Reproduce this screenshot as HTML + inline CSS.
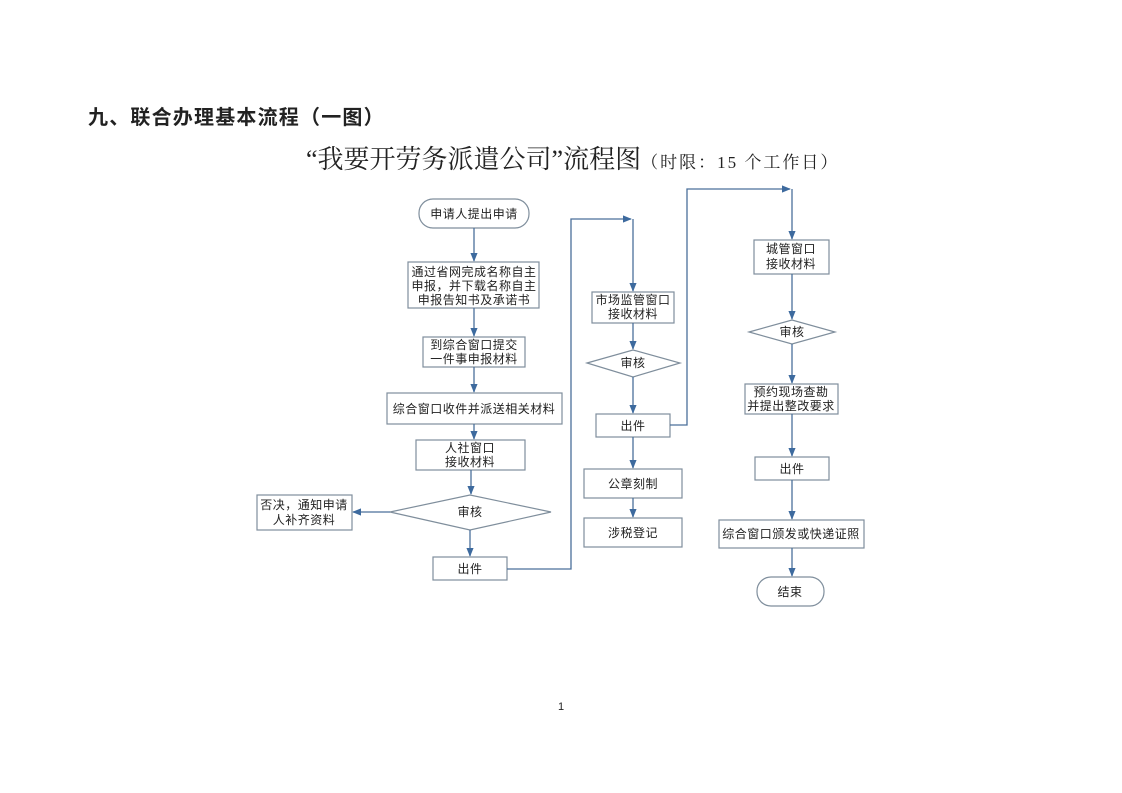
<!DOCTYPE html>
<html><head><meta charset="utf-8"><style>
html,body{margin:0;padding:0;background:#fff}
svg{display:block}
text{font-family:"Liberation Sans","Noto Sans CJK SC",sans-serif;fill:#222}
.b{fill:#fff;stroke:#7f8e9c;stroke-width:1.2}
.l{fill:none;stroke:#4a6f9a;stroke-width:1.3}
.t{font-size:12px;text-anchor:middle;letter-spacing:0.5px}
</style></head><body>
<svg width="1122" height="793" viewBox="0 0 1122 793" xmlns="http://www.w3.org/2000/svg">
<defs><marker id="a" viewBox="0 0 10 10" refX="9" refY="5" markerWidth="7" markerHeight="7" orient="auto"><path d="M0,1 L10,5 L0,9 z" fill="#3d6a9e"/></marker></defs>
<text x="88" y="124" style="font-size:20px;font-weight:bold;letter-spacing:1.2px;font-family:'Liberation Sans','Noto Sans CJK SC',sans-serif">九、联合办理基本流程（一图）</text>
<text x="306" y="168" style="font-size:26px;font-family:'Liberation Serif','Noto Serif CJK SC',serif">“我要开劳务派遣公司”流程图<tspan style="font-size:17px;letter-spacing:2px">（时限：15 个工作日）</tspan></text>
<text x="561" y="710" style="font-size:11px" text-anchor="middle">1</text>

<!-- column 1 -->
<rect class="b" x="419" y="199" width="110" height="29" rx="14"/>
<text class="t" x="474" y="218">申请人提出申请</text>
<line class="l" x1="474" y1="228" x2="474" y2="261" marker-end="url(#a)"/>
<rect class="b" x="408" y="262" width="131" height="46"/>
<text class="t" x="474" y="276">通过省网完成名称自主</text>
<text class="t" x="474" y="290">申报，并下载名称自主</text>
<text class="t" x="474" y="304">申报告知书及承诺书</text>
<line class="l" x1="474" y1="308" x2="474" y2="336" marker-end="url(#a)"/>
<rect class="b" x="423" y="337" width="102" height="30"/>
<text class="t" x="474" y="349">到综合窗口提交</text>
<text class="t" x="474" y="363">一件事申报材料</text>
<line class="l" x1="474" y1="367" x2="474" y2="392" marker-end="url(#a)"/>
<rect class="b" x="387" y="393" width="175" height="31"/>
<text class="t" x="474" y="413">综合窗口收件并派送相关材料</text>
<line class="l" x1="474" y1="424" x2="474" y2="439" marker-end="url(#a)"/>
<rect class="b" x="416" y="440" width="109" height="30"/>
<text class="t" x="470" y="452">人社窗口</text>
<text class="t" x="470" y="466">接收材料</text>
<line class="l" x1="471" y1="470" x2="471" y2="494" marker-end="url(#a)"/>
<polygon class="b" points="390,512 470,495 551,512 470,530"/>
<text class="t" x="470" y="516">审核</text>
<line class="l" x1="390" y1="512" x2="353" y2="512" marker-end="url(#a)"/>
<rect class="b" x="257" y="495" width="95" height="35"/>
<text class="t" x="304" y="509">否决，通知申请</text>
<text class="t" x="304" y="524">人补齐资料</text>
<line class="l" x1="470" y1="530" x2="470" y2="556" marker-end="url(#a)"/>
<rect class="b" x="433" y="557" width="74" height="23"/>
<text class="t" x="470" y="573">出件</text>
<polyline class="l" points="507,569 571,569 571,219 631,219" marker-end="url(#a)"/>

<!-- column 2 -->
<line class="l" x1="633" y1="219" x2="633" y2="291" marker-end="url(#a)"/>
<rect class="b" x="592" y="292" width="82" height="31"/>
<text class="t" x="633" y="304">市场监管窗口</text>
<text class="t" x="633" y="318">接收材料</text>
<line class="l" x1="633" y1="323" x2="633" y2="349" marker-end="url(#a)"/>
<polygon class="b" points="587,363 633,350 680,363 633,377"/>
<text class="t" x="633" y="367">审核</text>
<line class="l" x1="633" y1="377" x2="633" y2="413" marker-end="url(#a)"/>
<rect class="b" x="596" y="414" width="74" height="23"/>
<text class="t" x="633" y="430">出件</text>
<polyline class="l" points="670,425 687,425 687,189 790,189" marker-end="url(#a)"/>
<line class="l" x1="633" y1="437" x2="633" y2="468" marker-end="url(#a)"/>
<rect class="b" x="584" y="469" width="98" height="29"/>
<text class="t" x="633" y="488">公章刻制</text>
<line class="l" x1="633" y1="498" x2="633" y2="517" marker-end="url(#a)"/>
<rect class="b" x="584" y="518" width="98" height="29"/>
<text class="t" x="633" y="537">涉税登记</text>

<!-- column 3 -->
<line class="l" x1="792" y1="189" x2="792" y2="239" marker-end="url(#a)"/>
<rect class="b" x="754" y="240" width="75" height="34"/>
<text class="t" x="791" y="253">城管窗口</text>
<text class="t" x="791" y="268">接收材料</text>
<line class="l" x1="792" y1="274" x2="792" y2="319" marker-end="url(#a)"/>
<polygon class="b" points="749,332 792,320 835,332 792,344"/>
<text class="t" x="792" y="336">审核</text>
<line class="l" x1="792" y1="344" x2="792" y2="383" marker-end="url(#a)"/>
<rect class="b" x="745" y="384" width="93" height="30"/>
<text class="t" x="791" y="396">预约现场查勘</text>
<text class="t" x="791" y="410">并提出整改要求</text>
<line class="l" x1="792" y1="414" x2="792" y2="456" marker-end="url(#a)"/>
<rect class="b" x="755" y="457" width="74" height="23"/>
<text class="t" x="792" y="473">出件</text>
<line class="l" x1="792" y1="480" x2="792" y2="519" marker-end="url(#a)"/>
<rect class="b" x="719" y="520" width="145" height="28"/>
<text class="t" x="791" y="538">综合窗口颁发或快递证照</text>
<line class="l" x1="792" y1="548" x2="792" y2="576" marker-end="url(#a)"/>
<rect class="b" x="757" y="577" width="67" height="29" rx="14"/>
<text class="t" x="790" y="596">结束</text>
</svg>
</body></html>
